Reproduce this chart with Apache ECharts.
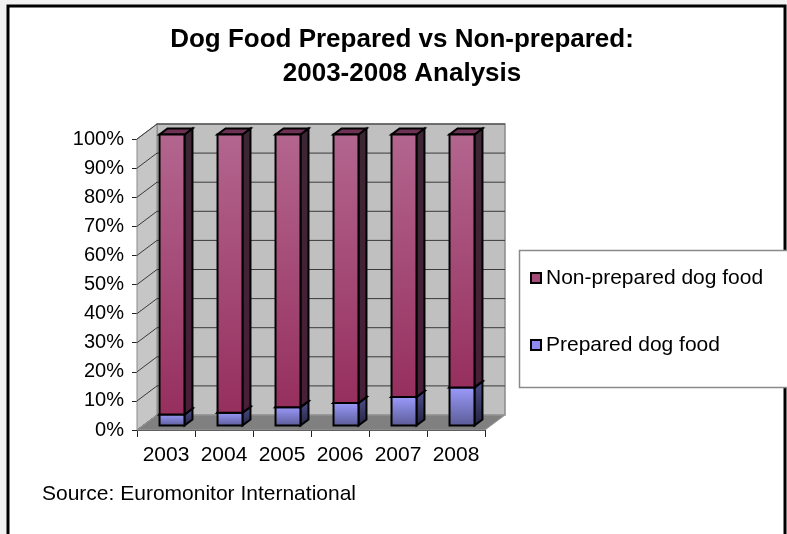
<!DOCTYPE html>
<html><head><meta charset="utf-8">
<script src="https://cdn.jsdelivr.net/npm/echarts/dist/echarts.min.js"></script>
<style>html,body{margin:0;padding:0;background:#f2f2f2}#c{width:787px;height:534px}</style>
</head><body><div id="c"></div><script>
const categories = ['2003','2004','2005','2006','2007','2008'];
const prepared = [3.8, 4.4, 6.3, 7.7, 9.8, 13.1];
const nonPrepared = [96.2, 95.6, 93.7, 92.3, 90.2, 86.9];
const yTicks = [0,10,20,30,40,50,60,70,80,90,100];
const seriesNames = ['Non-prepared dog food','Prepared dog food'];
const titleText = 'Dog Food Prepared vs Non-prepared:\n2003-2008 Analysis';
const sourceText = 'Source: Euromonitor International';

const FONT = '"Liberation Sans", Arial, sans-serif';
const DX = 20, DY = -15;      // depth of the 3D box
const F0 = 0.3, F1 = 0.7;     // bar position inside depth

const preparedData = prepared.map((v,i)=>[i, 0, v]);
const nonPreparedData = nonPrepared.map((v,i)=>[i, prepared[i], prepared[i]+v]);

function renderWalls(params, api){
  const n = categories.length;
  const w = api.size([1,0])[0];
  const x0 = api.coord([0,0])[0]-w/2;
  const x1 = api.coord([n-1,0])[0]+w/2;
  const yb = api.coord([0,0])[1];
  const yt = api.coord([0,100])[1];
  const children = [];
  children.push({type:'polygon', shape:{points:[[x0+DX,yt+DY],[x1+DX,yt+DY],[x1+DX,yb+DY],[x0+DX,yb+DY]]},
    style:{fill:'#c0c0c0', stroke:'#8a8a8a', lineWidth:1.5}});
  children.push({type:'polygon', shape:{points:[[x0,yt],[x0+DX,yt+DY],[x0+DX,yb+DY],[x0,yb]]},
    style:{fill:'#c6c6c6', stroke:'#8a8a8a', lineWidth:1}});
  yTicks.forEach(t=>{
    const y = api.coord([0,t])[1];
    if (t>0) children.push({type:'line', shape:{x1:x0+DX,y1:y+DY,x2:x1+DX,y2:y+DY}, style:{stroke:'#3a3a3a', lineWidth:1}});
    children.push({type:'line', shape:{x1:x0,y1:y,x2:x0+DX,y2:y+DY}, style:{stroke:'#3a3a3a', lineWidth:1}});
  });
  children.push({type:'polygon', shape:{points:[[x0,yb],[x0+DX,yb+DY],[x1+DX,yb+DY],[x1,yb]]},
    style:{fill:'#808080', stroke:'#9a9a9a', lineWidth:1}});
  return {type:'group', children};
}

function makeBarRenderer(cols){
  return function(params, api){
    const i = api.value(0);
    const cw = api.size([1,0])[0];
    const w = cw*0.43;
    const pb = api.coord([i, api.value(1)]);
    const pt = api.coord([i, api.value(2)]);
    const xl = pb[0]-w/2 + DX*F0;
    const xr = xl + w;
    const yb = pb[1] + DY*F0;
    const yt = pt[1] + DY*F0;
    const dx = DX*(F1-F0), dy = DY*(F1-F0);
    const grad = (a,b)=>new echarts.graphic.LinearGradient(0,0,0,1,[{offset:0,color:a},{offset:1,color:b}]);
    const stroke = {stroke:'#000', lineWidth:2, lineJoin:'miter'};
    return {type:'group', children:[
      {type:'polygon', shape:{points:[[xr,yt],[xr+dx,yt+dy],[xr+dx,yb+dy],[xr,yb]]},
        style:Object.assign({fill:grad(cols.side[0],cols.side[1])}, stroke)},
      {type:'polygon', shape:{points:[[xl,yt],[xr,yt],[xr+dx,yt+dy],[xl+dx,yt+dy]]},
        style:Object.assign({fill:cols.top}, stroke)},
      {type:'rect', shape:{x:xl,y:yt,width:w,height:yb-yt},
        style:Object.assign({fill:grad(cols.front[0],cols.front[1])}, stroke)}
    ]};
  };
}

const chart = echarts.init(document.getElementById('c'), null, {renderer:'canvas'});
chart.setOption({
  backgroundColor:'#f2f2f2',
  animation:false,
  graphic:[
    {type:'rect', z:-10, shape:{x:8, y:6, width:777, height:540}, style:{fill:'#ffffff', stroke:'#000', lineWidth:3}},
    {type:'rect', z:-5, shape:{x:519.5, y:250.5, width:280, height:137}, style:{fill:'#ffffff', stroke:'#8a8a8a', lineWidth:1.5}},
    {type:'text', left:42, top:484, style:{text:sourceText, font:'21px '+FONT, fill:'#000'}}
  ],
  title:{text:titleText, left:397, textAlign:'center', top:18,
    textStyle:{fontFamily:FONT, fontWeight:'bold', fontSize:26, lineHeight:34, color:'#000'}},
  legend:{data:seriesNames, orient:'vertical', left:525, top:262, itemWidth:10, itemHeight:10, itemGap:45,
    icon:'rect', textStyle:{fontFamily:FONT, fontSize:21, color:'#000', lineHeight:22}},
  grid:{left:137, top:139, width:348, bottom:104},
  xAxis:{type:'category', data:categories,
    axisLine:{lineStyle:{color:'#222', width:1}},
    axisTick:{show:true, interval:0, length:7, lineStyle:{color:'#222'}},
    axisLabel:{interval:0, hideOverlap:false, fontFamily:FONT, fontSize:21, color:'#000', margin:15}},
  yAxis:{type:'value', min:0, max:100, interval:10,
    axisLine:{show:true, lineStyle:{color:'#222', width:1}},
    axisTick:{show:true, length:5, lineStyle:{color:'#222'}},
    splitLine:{show:false},
    axisLabel:{fontFamily:FONT, fontSize:20, color:'#000', margin:13, formatter:'{value}%'}},
  series:[
    {type:'custom', name:'walls', silent:true, z:1, renderItem:renderWalls, data:[[0,0]], legendHoverLink:false},
    {type:'custom', name:seriesNames[1], z:2, data:preparedData, encode:{x:0,y:[1,2]},
      itemStyle:{color:'#8c8cf0', borderColor:'#000', borderWidth:1},
      renderItem:makeBarRenderer({front:['#9c9cff','#5a5a94'], side:['#50508e','#22223f'], top:'#7c7cc8'})},
    {type:'custom', name:seriesNames[0], z:3, data:nonPreparedData, encode:{x:0,y:[1,2]},
      itemStyle:{color:'#a34a76', borderColor:'#000', borderWidth:1},
      renderItem:makeBarRenderer({front:['#b3668f','#962f5e'], side:['#3c2634','#4a1e38'], top:'#6e3354'})}
  ]
});
</script></body></html>
